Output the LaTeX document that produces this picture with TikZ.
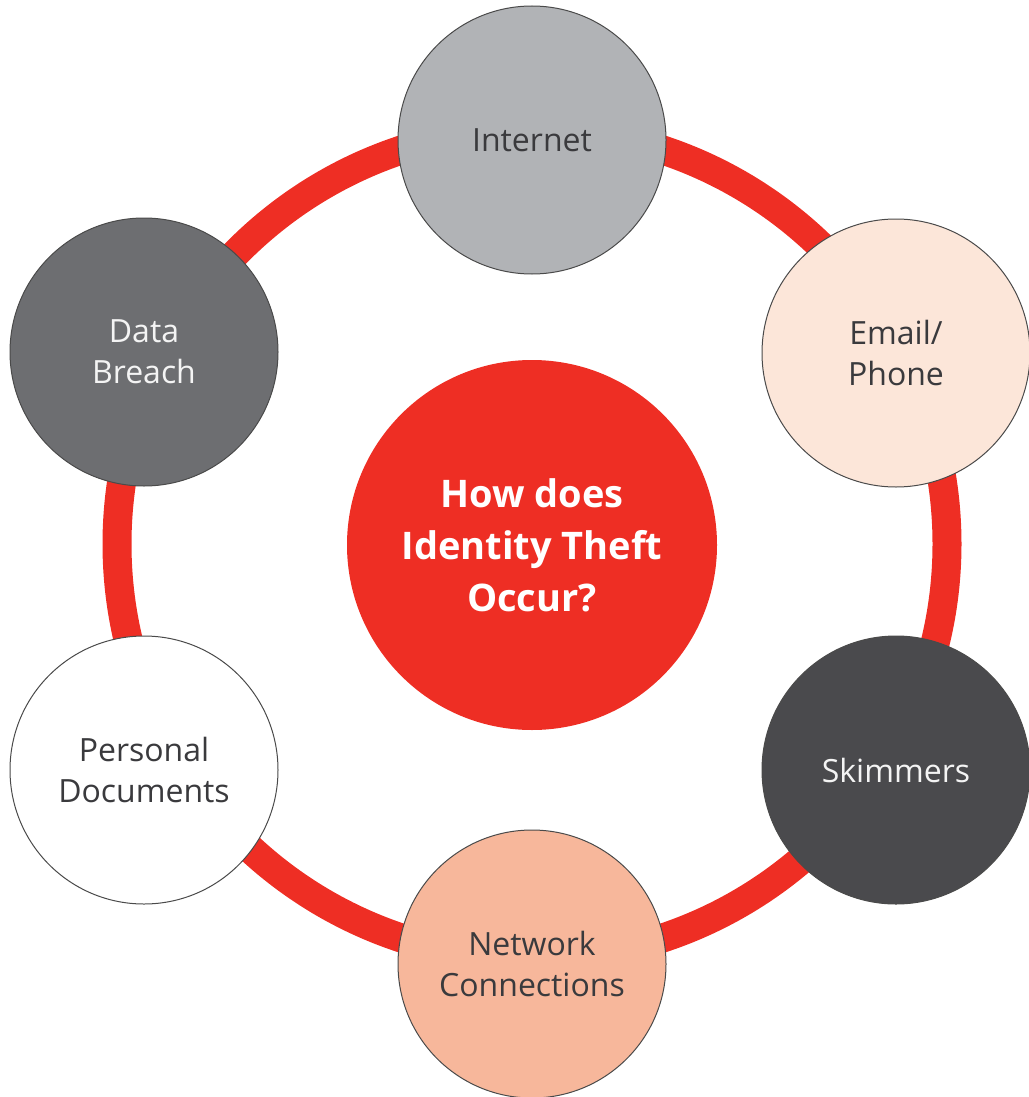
\documentclass[tikz,border=0pt]{standalone}
\usepackage{fontspec}
\setmainfont{Open Sans}
\definecolor{ringred}{HTML}{EE2E24}
\definecolor{cinternet}{HTML}{B1B3B6}
\definecolor{cemail}{HTML}{FCE6D9}
\definecolor{cskim}{HTML}{4A4A4D}
\definecolor{cnet}{HTML}{F7B79B}
\definecolor{cdata}{HTML}{6D6E71}
\definecolor{darktext}{HTML}{3A3A3D}
\definecolor{lighttext}{HTML}{F4F4F4}
\definecolor{rimline}{HTML}{4A4A4A}
\begin{document}
\begin{tikzpicture}[x=1pt,y=-1pt,
  item/.style={circle, draw=rimline, line width=1pt, minimum size=268pt, inner sep=0pt,
    align=center, font=\fontsize{32}{41}\selectfont},
  hub/.style={circle, fill=ringred, minimum size=370pt, inner sep=0pt, align=center,
    text=white, font=\bfseries\fontsize{38}{52}\selectfont},
  ring/.style={draw=ringred, line width=29pt}]
\useasboundingbox (0,0) rectangle (1028,1097);
\coordinate (ringc) at (532,544);
\draw[ring] (ringc) circle[radius=415];
\node[hub] (center) at (532,545) {How does\\Identity Theft\\Occur?};
\node[item, fill=cinternet, text=darktext] (internet) at (532,140) {Internet};
\node[item, fill=cemail, text=darktext] (email) at (896,353) {Email/\\Phone};
\node[item, fill=cskim, text=lighttext] (skim) at (896,770) {Skimmers};
\node[item, fill=cnet, text=darktext] (net) at (532,964) {Network\\Connections};
\node[item, fill=white, text=darktext] (docs) at (144,770) {Personal\\Documents};
\node[item, fill=cdata, text=lighttext] (data) at (144,352) {Data\\Breach};
\end{tikzpicture}
\end{document}
